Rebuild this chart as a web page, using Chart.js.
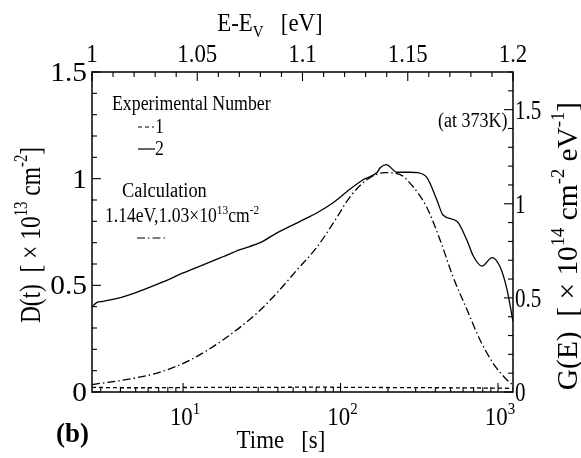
<!DOCTYPE html>
<html>
<head>
<meta charset="utf-8">
<script src="https://cdn.jsdelivr.net/npm/chart.js@4.4.1/dist/chart.umd.min.js"></script>
<style>
  html, body { margin: 0; padding: 0; background: #fff; }
  canvas { display: block; }
</style>
</head>
<body>
<canvas id="chart" width="581" height="458"></canvas>
<script>
// --- data (time in s, D in 1e13 cm^-2) ---
const timeExp1 = [2.64, 4, 6, 10, 20, 40, 70, 100, 200, 400, 700, 1000, 1245];
const dExp1    = [0.022, 0.02, 0.02, 0.021, 0.022, 0.022, 0.023, 0.022, 0.021, 0.02, 0.019, 0.018, 0.017];

const timeExp2 = [2.64, 2.84, 3.10, 4.16, 5.57, 7.46, 10, 13.4, 17.9, 23.0, 30.8, 39.5, 55.4, 71.0, 89.6,
                  110, 139, 171, 178, 195, 228, 276, 310, 354, 409, 447, 548, 636, 694, 791, 916, 1030, 1141, 1245];
const dExp2    = [0.40, 0.42, 0.425, 0.446, 0.479, 0.516, 0.558, 0.596, 0.634, 0.667, 0.70, 0.746, 0.80, 0.84, 0.887,
                  0.94, 0.995, 1.03, 1.05, 1.066, 1.03, 1.03, 1.028, 1.005, 0.90, 0.83, 0.80, 0.71, 0.64, 0.59, 0.63, 0.587, 0.48, 0.33];

const timeCalc = [2.64, 4.16, 6.84, 11.1, 17.9, 29.5, 39.5, 53.0, 71.0, 89.6, 115, 147, 191, 239, 289, 354,
                  428, 518, 636, 769, 929, 1141, 1245];
const dCalc    = [0.035, 0.056, 0.089, 0.15, 0.244, 0.37, 0.465, 0.573, 0.68, 0.79, 0.915, 0.995, 1.028, 1.019,
                  0.962, 0.864, 0.714, 0.54, 0.385, 0.244, 0.136, 0.056, 0.033];

// axis ranges and tick labels
const timeMin = 2.64, timeMax = 1245;
const energyMin = 1, energyMax = 1.2;
const leftMax = 1.5, rightMax = 1.7;
const leftTicks   = ['0', '0.5', '1', '1.5'];
const rightTicks  = ['0', '0.5', '1', '1.5'];
const topTicks    = ['1', '1.05', '1.1', '1.15', '1.2'];
const bottomTicks = [1, 2, 3];   // exponents of 10

const SERIF = '"Liberation Serif", "Times New Roman", serif';

// draws text with super/subscripts; parts = [[text, kind]], kind 1 = sup, -1 = sub
function drawRich(ctx, parts, x, y, opt) {
  const size = opt.size, sx = opt.sx || 1, weight = opt.weight || 'normal';
  const font = k => `${weight} ${k ? Math.round(size * 0.64) : size}px ${SERIF}`;
  let w = 0;
  for (const [t, k] of parts) { ctx.font = font(k); w += ctx.measureText(t).width; }
  ctx.save();
  ctx.translate(x, y);
  if (opt.rot) ctx.rotate(opt.rot);
  ctx.scale(sx, 1);
  let cx = opt.align === 'center' ? -w / 2 : opt.align === 'right' ? -w : 0;
  ctx.textAlign = 'left';
  ctx.textBaseline = 'alphabetic';
  ctx.fillStyle = '#000';
  for (const [t, k] of parts) {
    ctx.font = font(k);
    const dy = k === 1 ? -size * 0.42 : k === -1 ? size * 0.22 : 0;
    ctx.fillText(t, cx, dy);
    cx += ctx.measureText(t).width;
  }
  ctx.restore();
}

function seg(ctx, x1, y1, x2, y2, dash) {
  ctx.setLineDash(dash || []);
  ctx.beginPath();
  ctx.moveTo(x1, y1);
  ctx.lineTo(x2, y2);
  ctx.stroke();
}

const DASH = [4, 3];
const DASHDOT = [8, 3, 1.5, 3];

const framePlugin = {
  id: 'frame',
  afterDraw(chart) {
    const { ctx, chartArea: a, scales } = chart;
    ctx.save();
    ctx.strokeStyle = '#000';
    ctx.lineWidth = 1.5;
    ctx.setLineDash([]);
    ctx.strokeRect(a.left, a.top, a.right - a.left, a.bottom - a.top);

    ctx.lineWidth = 1.1;
    // left axis ticks (inward)
    for (let i = 0; i <= leftMax * 10; i++) {
      const py = scales.y.getPixelForValue(i / 10);
      seg(ctx, a.left, py, a.left + (i % 5 === 0 ? 9 : 5), py);
    }
    // right axis ticks
    for (let i = 0; i <= Math.round(rightMax * 10); i++) {
      const py = scales.y2.getPixelForValue(i / 10);
      seg(ctx, a.right, py, a.right - (i % 5 === 0 ? 9 : 5), py);
    }
    // top axis ticks
    for (let i = 0; i <= 20; i++) {
      const px = scales.x2.getPixelForValue(energyMin + i / 100);
      seg(ctx, px, a.top, px, a.top + (i % 5 === 0 ? 9 : 5));
    }
    // bottom log ticks
    for (let d = 0; d <= 3; d++) {
      for (let m = 1; m <= 9; m++) {
        const v = m * Math.pow(10, d);
        if (v < timeMin || v > timeMax) continue;
        const px = scales.x.getPixelForValue(v);
        seg(ctx, px, a.bottom, px, a.bottom - (m === 1 ? 9 : 5));
      }
    }

    // tick labels
    leftTicks.forEach(t => {
      const py = scales.y.getPixelForValue(parseFloat(t));
      drawRich(ctx, [[t, 0]], a.left - 5, py + 9, { size: 28, sx: 1.05, align: 'right' });
    });
    rightTicks.forEach(t => {
      const py = scales.y2.getPixelForValue(parseFloat(t));
      drawRich(ctx, [[t, 0]], a.right + 2, py + 9, { size: 27, sx: 0.78 });
    });
    topTicks.forEach(t => {
      const px = scales.x2.getPixelForValue(parseFloat(t));
      drawRich(ctx, [[t, 0]], px, a.top - 10, { size: 26, sx: 0.88, align: 'center' });
    });
    bottomTicks.forEach(e => {
      const px = scales.x.getPixelForValue(Math.pow(10, e));
      drawRich(ctx, [['10', 0], [String(e), 1]], px + 2, a.bottom + 33, { size: 26, sx: 0.88, align: 'center' });
    });

    // axis titles
    drawRich(ctx, [['E-E', 0], ['V', -1], ['   [eV]', 0]], 270, 31, { size: 26, sx: 0.88, align: 'center' });
    drawRich(ctx, [['Time   [s]', 0]], 281, 448, { size: 26, sx: 0.88, align: 'center' });
    drawRich(ctx, [['D(t)  [ ', 0], ['×', 0], [' 10', 0], ['13', 1], [' cm', 0], ['-2', 1], [']', 0]],
      40, 235, { size: 30, sx: 0.78, align: 'center', rot: -Math.PI / 2 });
    drawRich(ctx, [['G(E)  [ ', 0], ['×', 0], [' 10', 0], ['14', 1], [' cm', 0], ['-2', 1], [' eV', 0], ['-1', 1], [']', 0]],
      577, 246, { size: 30, sx: 0.98, align: 'center', rot: -Math.PI / 2 });

    // legend block
    drawRich(ctx, [['Experimental Number', 0]], 112, 110, { size: 20, sx: 0.89 });
    ctx.lineWidth = 1.2;
    seg(ctx, 138, 127, 154, 127, DASH);
    drawRich(ctx, [['1', 0]], 155, 133, { size: 20, sx: 0.89 });
    seg(ctx, 138, 149, 155, 149, []);
    drawRich(ctx, [['2', 0]], 155, 155, { size: 20, sx: 0.89 });
    drawRich(ctx, [['Calculation', 0]], 122, 197, { size: 20, sx: 0.92 });
    drawRich(ctx, [['1.14eV,1.03', 0], ['×', 0], ['10', 0], ['13', 1], ['cm', 0], ['-2', 1]],
      105, 222, { size: 20, sx: 0.88 });
    seg(ctx, 137, 238, 168, 238, DASHDOT);
    drawRich(ctx, [['(at 373K)', 0]], 438, 127, { size: 20, sx: 0.9 });

    drawRich(ctx, [['(b)', 0]], 56, 442, { size: 27, weight: 'bold' });
    ctx.restore();
  }
};

const toPoints = (xs, ys) => xs.map((x, i) => ({ x, y: ys[i] }));
const lineStyle = { borderColor: '#000', borderWidth: 1.3, pointRadius: 0, fill: false, cubicInterpolationMode: 'monotone' };

new Chart(document.getElementById('chart'), {
  type: 'line',
  data: {
    datasets: [
      { ...lineStyle, label: '1', data: toPoints(timeExp1, dExp1), borderDash: DASH },
      { ...lineStyle, label: '2', data: toPoints(timeExp2, dExp2), borderDash: [] },
      { ...lineStyle, label: 'Calculation', data: toPoints(timeCalc, dCalc), borderDash: DASHDOT }
    ]
  },
  options: {
    responsive: false,
    animation: false,
    layout: { padding: { left: 92, right: 68, top: 72, bottom: 66 } },
    plugins: { legend: { display: false }, tooltip: { enabled: false }, colors: { enabled: false } },
    scales: {
      x:  { type: 'logarithmic', min: timeMin, max: timeMax, display: false },
      x2: { type: 'linear', position: 'top', min: energyMin, max: energyMax, display: false },
      y:  { type: 'linear', min: 0, max: leftMax, display: false },
      y2: { type: 'linear', position: 'right', min: 0, max: rightMax, display: false }
    }
  },
  plugins: [framePlugin]
});
</script>
</body>
</html>
